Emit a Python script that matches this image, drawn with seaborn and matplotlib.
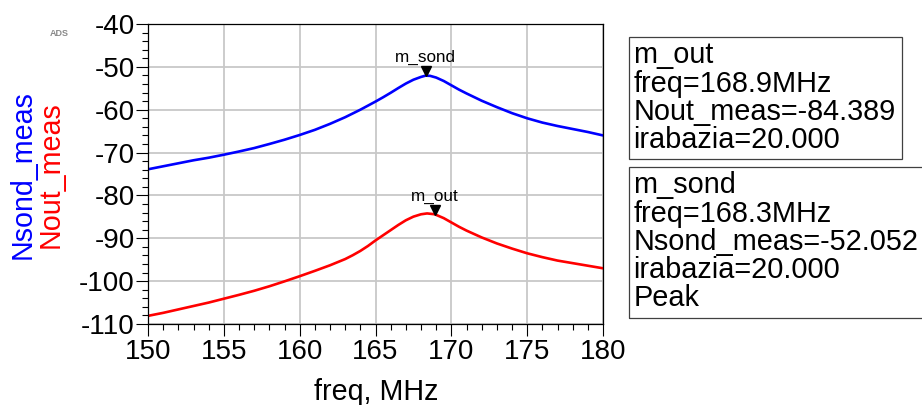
import matplotlib
matplotlib.use("Agg")
import matplotlib.pyplot as plt
from matplotlib.patches import Rectangle
from matplotlib.transforms import offset_copy
from matplotlib.ticker import MultipleLocator
import pandas as pd
import seaborn as sns

# Measured noise spectra (dBm) versus frequency (MHz)
freq_sond = [150, 151, 152, 153, 154, 155, 156, 157, 158, 159, 160, 161, 162,
             163, 164, 165, 165.5, 166, 166.5, 167, 167.5, 168, 168.3, 168.6,
             169, 169.5, 170, 170.5, 171, 172, 173, 174, 175, 176, 177, 178,
             179, 180]
nsond_meas = [-73.9, -73.2, -72.5, -71.8, -71.2, -70.5, -69.75, -68.95, -68.0,
              -67.0, -65.9, -64.7, -63.3, -61.75, -60.0, -58.1, -57.1, -56.05,
              -54.95, -53.9, -53.0, -52.35, -52.052, -52.1, -52.5, -53.3, -54.3,
              -55.3, -56.2, -57.9, -59.4, -60.8, -62.0, -63.0, -63.8, -64.5,
              -65.2, -66.0]

freq_out = [150, 151, 152, 153, 154, 155, 156, 157, 158, 159, 160, 161, 162,
            163, 163.5, 164, 164.5, 165, 165.5, 166, 166.5, 167, 167.5, 168,
            168.4, 168.9, 169.5, 170, 170.5, 171, 172, 173, 174, 175, 176, 177,
            178, 179, 180]
nout_meas = [-108.1, -107.4, -106.6, -105.8, -105.0, -104.1, -103.2, -102.25,
             -101.2, -100.05, -98.85, -97.6, -96.3, -94.85, -93.95, -92.95,
             -91.8, -90.5, -89.3, -88.1, -86.9, -85.8, -84.95, -84.4, -84.2,
             -84.389, -85.3, -86.3, -87.3, -88.2, -89.8, -91.2, -92.4, -93.5,
             -94.4, -95.2, -95.8, -96.4, -97.0]

# Marker readouts
m_sond = {"freq": 168.3, "value": -52.052, "gain": 20.000}
m_out = {"freq": 168.9, "value": -84.389, "gain": 20.000}

x_ticks = [150, 155, 160, 165, 170, 175, 180]
y_ticks = [-40, -50, -60, -70, -80, -90, -100, -110]

sns.set_theme(style="white")
plt.rcParams["font.family"] = ["Liberation Sans", "DejaVu Sans"]
plt.rcParams["axes.unicode_minus"] = False

W, H = 922, 405
fig = plt.figure(figsize=(W / 100, H / 100), dpi=100)
ax = fig.add_axes([148 / W, 1 - 324 / H, 455 / W, 300 / H])

df_sond = pd.DataFrame({"freq": freq_sond, "val": nsond_meas})
df_out = pd.DataFrame({"freq": freq_out, "val": nout_meas})
sns.lineplot(data=df_sond, x="freq", y="val", ax=ax, color="#0000ff", lw=1.9)
sns.lineplot(data=df_out, x="freq", y="val", ax=ax, color="#ff0000", lw=1.9)

ax.set_xlim(150, 180)
ax.set_ylim(-110, -40)
ax.set_xticks(x_ticks)
ax.set_yticks(y_ticks)
ax.xaxis.set_minor_locator(MultipleLocator(1))
ax.yaxis.set_minor_locator(MultipleLocator(2))
ax.grid(True, which="major", color="#c8c8c8", lw=1.3)
ax.set_axisbelow(True)
ax.set_xlabel("")
ax.set_ylabel("")

for sp in ax.spines.values():
    sp.set_visible(True)
    sp.set_color("black")
    sp.set_linewidth(0.9)

ax.tick_params(axis="both", which="major", direction="out", length=8.6,
               width=0.8, color="black", labelsize=20, labelcolor="black")
ax.tick_params(axis="both", which="minor", direction="out", length=4.3,
               width=0.8, color="black")
ax.tick_params(axis="y", which="both", left=True, right=False, pad=0.8)
ax.tick_params(axis="x", which="both", bottom=True, top=False, pad=2)

# Peak markers with their names
for mk, name in ((m_sond, "m_sond"), (m_out, "m_out")):
    tr = offset_copy(ax.transData, fig=fig, x=0, y=3.0, units="points")
    ax.plot([mk["freq"]], [mk["value"]], marker="v", ms=6.5, color="black",
            transform=tr, zorder=5)
    ax.annotate(name, (mk["freq"], mk["value"]), xytext=(0, 9.8),
                textcoords="offset points", ha="center", va="baseline",
                fontsize=12.3, color="black")

# Axis titles
fig.text(376 / W, 1 - 400 / H, "freq, MHz", ha="center", va="baseline",
         fontsize=20.6, color="black")
fig.text(23 / W, 1 - 175 / H, "Nsond_meas", rotation=90, ha="center",
         va="center", fontsize=20.6, color="#0000ff")
fig.text(51 / W, 1 - 175 / H, "Nout_meas", rotation=90, ha="center",
         va="center", fontsize=20.6, color="#ff0000")
fig.text(50 / W, 1 - 36 / H, "ADS", ha="left", va="baseline", fontsize=6.5,
         color="#8a8a8a", fontweight="bold")

# Marker readout boxes
def px_rect(x0, y0, x1, y1):
    return Rectangle((x0 / W, 1 - y1 / H), (x1 - x0) / W, (y1 - y0) / H,
                     transform=fig.transFigure, fill=False, ec="#404040",
                     lw=0.9, clip_on=False)

fig.patches.append(px_rect(629.3, 37.3, 901.7, 159))
fig.patches.append(px_rect(629.3, 166.7, 935, 317.7))

out_lines = ["m_out", f"freq={m_out['freq']:.1f}MHz",
             f"Nout_meas={m_out['value']:.3f}", f"irabazia={m_out['gain']:.3f}"]
sond_lines = ["m_sond", f"freq={m_sond['freq']:.1f}MHz",
              f"Nsond_meas={m_sond['value']:.3f}",
              f"irabazia={m_sond['gain']:.3f}", "Peak"]

for i, s in enumerate(out_lines):
    fig.text(633.3 / W, 1 - (63.3 + 28.3 * i) / H, s, ha="left",
             va="baseline", fontsize=20.8, color="black")
for i, s in enumerate(sond_lines):
    fig.text(633.3 / W, 1 - (193.3 + 28.3 * i) / H, s, ha="left",
             va="baseline", fontsize=20.8, color="black")

fig.savefig("out.png", dpi=100)
